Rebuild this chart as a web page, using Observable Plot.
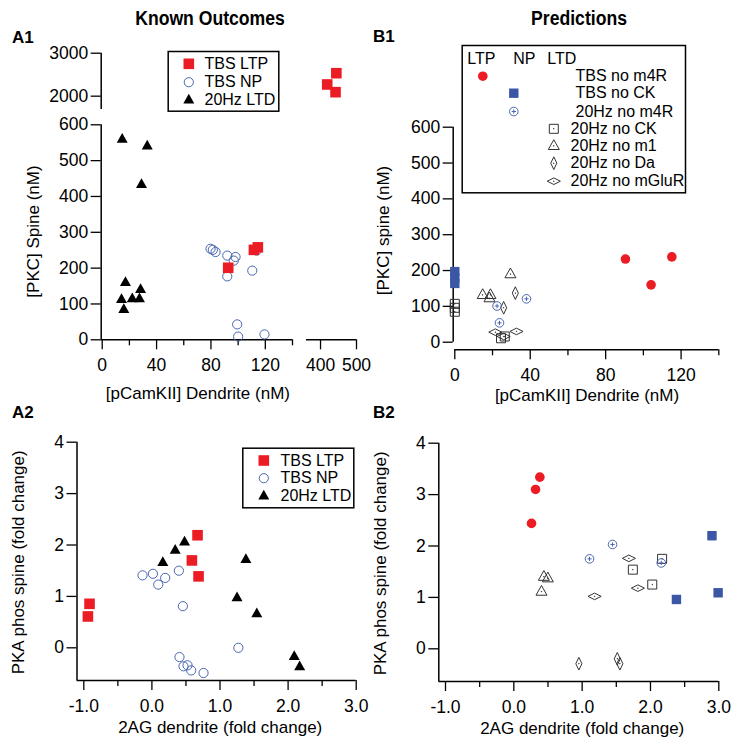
<!DOCTYPE html>
<html><head><meta charset="utf-8">
<script src="https://cdn.jsdelivr.net/npm/d3@7"></script>
<script src="https://cdn.jsdelivr.net/npm/@observablehq/plot@0.6"></script>
<style>
body{margin:0;background:#fff;}
#root{position:relative;width:739px;height:750px;font-family:"Liberation Sans",Arial,Helvetica,sans-serif;color:#000;}
.panel{position:absolute;}
.title{position:absolute;font-weight:bold;font-size:20px;line-height:22px;white-space:nowrap;transform:translateX(-50%) scaleX(0.88);transform-origin:center;}
.plabel{position:absolute;font-weight:bold;font-size:17px;line-height:18px;}
</style></head>
<body><div id="root"></div>
<script>
// ---------------- DATA ----------------
// Panel A1: [pCamKII] dendrite (nM) vs [PKC] spine (nM)
const a1LtpX = [92.7, 111.6, 114.5, 418.6, 441.7, 444.0];
const a1LtpY = [201, 251, 258, 2272, 2093, 2535];
const a1NpX  = [79.7, 81.4, 83.4, 92.0, 92.0, 96.8, 98.1, 110.4, 113.5, 99.3, 100.0, 119.4];
const a1NpY  = [254, 251, 245, 235, 177, 221, 231, 193, 249, 43, 9, 15];
const a1LtdX = [14.7, 33.1, 28.9, 17.1, 14.2, 15.9, 22.1, 27.4, 28.2];
const a1LtdY = [561, 542, 435, 161, 114, 86, 116, 116, 142];
// Panel A2: 2AG dendrite vs PKA phos spine (fold change)
const a2LtpX = [-0.916, -0.94, 0.67, 0.587, 0.685];
const a2LtpY = [0.856, 0.61, 2.19, 1.70, 1.39];
const a2NpX  = [-0.138, 0.015, 0.093, 0.195, 0.396, 0.455, 0.405, 0.464, 0.523, 0.577, 0.758, 1.27];
const a2NpY  = [1.41, 1.44, 1.23, 1.36, 1.50, 0.81, -0.18, -0.36, -0.34, -0.44, -0.49, 0.0];
const a2LtdX = [0.16, 0.342, 0.479, 1.38, 1.25, 1.54, 2.09, 2.17];
const a2LtdY = [1.67, 1.91, 2.07, 1.73, 0.985, 0.67, -0.16, -0.36];
// Panel B1
const b1TbsNoM4rX = [90.5, 115.1, 104.1];   const b1TbsNoM4rY = [232, 238, 160];
const b1TbsNoCkX  = [0, 0, 0];              const b1TbsNoCkY  = [197, 180, 164];
const b1HzNoM4rX  = [22.4, 23.7, 38.0];     const b1HzNoM4rY  = [101, 54, 121];
const b1HzNoCkX   = [0, 0, 0, 24.5, 26.5];  const b1HzNoCkY   = [107, 96, 85, 11, 16];
const b1HzNoM1X   = [14.8, 18.9, 18.4, 29.5]; const b1HzNoM1Y = [133, 133, 124, 191];
const b1HzNoDaX   = [32.1, 25.9];           const b1HzNoDaY   = [137, 96];
const b1HzNoMgX   = [21.5, 32.7, 25.9];     const b1HzNoMgY   = [28, 30, 16];
// Panel B2
const b2TbsNoM4rX = [0.381, 0.318, 0.259];  const b2TbsNoM4rY = [3.34, 3.10, 2.44];
const b2TbsNoCkX  = [2.90, 2.99, 2.38];     const b2TbsNoCkY  = [2.20, 1.09, 0.96];
const b2HzNoM4rX  = [1.108, 1.445, 2.158];  const b2HzNoM4rY  = [1.75, 2.03, 1.67];
const b2HzNoCkX   = [2.17, 1.742, 2.026];   const b2HzNoCkY   = [1.75, 1.54, 1.25];
const b2HzNoM1X   = [0.44, 0.498, 0.405];   const b2HzNoM1Y   = [1.41, 1.38, 1.12];
const b2HzNoDaX   = [0.952, 1.514, 1.552];  const b2HzNoDaY   = [-0.29, -0.195, -0.29];
const b2HzNoMgX   = [1.684, 1.816, 1.182];  const b2HzNoMgY   = [1.76, 1.18, 1.02];
// Labels / ticks
const titles = ["Known Outcomes", "Predictions"];
const panelNames = ["A1", "B1", "A2", "B2"];
const legendA = ["TBS LTP", "TBS NP", "20Hz LTD"];
const legendBHeader = ["LTP", "NP", "LTD"];
const legendB = ["TBS no m4R", "TBS no CK", "20Hz no m4R", "20Hz no CK", "20Hz no m1", "20Hz no Da", "20Hz no mGluR"];
const a1XMajor = [0, 40, 80, 120, 400, 500], a1XMinor = [20, 60, 100, 140];
const a1YTicks = [0, 100, 200, 300, 400, 500, 600, 2000, 3000];
const b1XMajor = [0, 40, 80, 120], b1XMinor = [20, 60, 100, 140];
const b1YTicks = [0, 100, 200, 300, 400, 500, 600];
const foldXMajor = [-1, 0, 1, 2, 3], foldXMinor = [-0.5, 0.5, 1.5, 2.5];
const foldYTicks = [0, 1, 2, 3, 4];
const labPCam = "[pCamKII] Dendrite (nM)";
const lab2AG = "2AG dendrite (fold change)";
const labPKA = "PKA phos spine (fold change)";

// ---------------- STYLE ----------------
const FONT = "Liberation Sans, Arial, Helvetica, sans-serif";
const RED = "#ec1c24", BLUE = "#3a56a5", CBLUE = "#4a66b0", GREY = "#333";
const pts = (xs, ys) => xs.map((x, i) => ({x, y: ys[i]}));
const R = s => Math.sqrt(s / Math.PI);
const symSquare = {draw(c, s) { const r = R(s); c.rect(-r, -r, 2 * r, 2 * r); }};
const symSquareDot = {draw(c, s) { const r = R(s); c.rect(-r, -r, 2 * r, 2 * r); c.rect(-0.25, -0.25, 0.5, 0.5); }};
const symTri = {draw(c, s) { const r = R(s); c.moveTo(0, -1.15 * r); c.lineTo(1.1 * r, 0.8 * r); c.lineTo(-1.1 * r, 0.8 * r); c.closePath(); }};
const symTriDot = {draw(c, s) { symTri.draw(c, s); c.rect(-0.25, 0.1, 0.5, 0.5); }};
const symCross = {draw(c, s) { const r = R(s); c.moveTo(r, 0); c.arc(0, 0, r, 0, 2 * Math.PI);
  c.moveTo(-0.5 * r, 0); c.lineTo(0.5 * r, 0); c.moveTo(0, -0.5 * r); c.lineTo(0, 0.5 * r); }};
const symTall = {draw(c, s) { const r = R(s); c.moveTo(0, -1.35 * r); c.lineTo(0.65 * r, 0); c.lineTo(0, 1.35 * r); c.lineTo(-0.65 * r, 0); c.closePath(); c.rect(-0.25, -0.25, 0.5, 0.5); }};
const symWide = {draw(c, s) { const r = R(s); c.moveTo(-1.4 * r, 0); c.lineTo(0, -0.7 * r); c.lineTo(1.4 * r, 0); c.lineTo(0, 0.7 * r); c.closePath(); c.rect(-0.25, -0.25, 0.5, 0.5); }};

const ST = {
  ltp:  {symbol: symSquare, r: 5.3, fill: RED, stroke: "none"},
  np:   {symbol: "circle", r: 4.6, fill: "none", stroke: CBLUE, strokeWidth: 1},
  ltd:  {symbol: symTri, r: 5, fill: "#000", stroke: "none"},
  rc:   {symbol: "circle", r: 4.8, fill: RED, stroke: "none"},
  bsq:  {symbol: symSquare, r: 4.7, fill: BLUE, stroke: "none"},
  xc:   {symbol: symCross, r: 4.3, fill: "none", stroke: CBLUE, strokeWidth: 1},
  osq:  {symbol: symSquareDot, r: 4.5, fill: "none", stroke: GREY, strokeWidth: 1},
  otri: {symbol: symTriDot, r: 5, fill: "none", stroke: GREY, strokeWidth: 1},
  tall: {symbol: symTall, r: 4.7, fill: "none", stroke: GREY, strokeWidth: 1},
  wide: {symbol: symWide, r: 4.7, fill: "none", stroke: GREY, strokeWidth: 1}
};
const dots = (data, st) => Plot.dot(data, {x: "x", y: "y", ...st});
const legDot = (st, dx, dy) => Plot.dot([0], {frameAnchor: "top-left", dx, dy, ...st});
const legText = (t, dx, dy) => Plot.text([t], {frameAnchor: "top-left", dx, dy, textAnchor: "start", lineAnchor: "middle", fontSize: 16});
const xLabel = (t, dx, dy) => Plot.text([t], {frameAnchor: "bottom", dx, dy, textAnchor: "middle", lineAnchor: "middle", fontSize: 17});
const yLabel = (t, dx, dy) => Plot.text([t], {frameAnchor: "left", rotate: -90, dx, dy, textAnchor: "middle", lineAnchor: "middle", fontSize: 17});

function axisMarks({xMajor, xMinor, yTicks, xfmt, yfmt}) {
  const m = [
    Plot.axisX(xMajor, {anchor: "bottom", tickSize: 10, tickPadding: 9, tickFormat: xfmt, fontSize: 17.5, strokeWidth: 1.3, label: null}),
    Plot.axisY(yTicks, {anchor: "left", tickSize: 10, tickPadding: 3, tickFormat: yfmt, fontSize: 17.5, strokeWidth: 1.3, label: null})
  ];
  if (xMinor) m.push(Plot.axisX(xMinor, {anchor: "bottom", tickSize: 6, tickFormat: () => "", strokeWidth: 1.3, label: null}));
  return m;
}

function panel(o) {
  return Plot.plot({
    width: o.w, height: o.h,
    marginLeft: o.ml, marginRight: o.mr, marginTop: o.mt, marginBottom: o.mb,
    x: {type: "linear", domain: o.xd, range: o.xr, axis: null, nice: false},
    y: {type: "linear", domain: o.yd, range: o.yr, axis: null, nice: false},
    style: {fontFamily: FONT, fontSize: "16px", color: "#000", background: "transparent", overflow: "visible"},
    marks: o.marks
  });
}

const root = document.getElementById("root");
function place(el, left, top) { const d = document.createElement("div"); d.className = "panel"; d.style.left = left + "px"; d.style.top = top + "px"; d.appendChild(el); root.appendChild(d); }

// ---------------- A1 ----------------
const a1xd = [-0.75, 140, 361, 500], a1yd = [0, 600, 1690, 3000];
place(panel({
  w: 370, h: 400, ml: 100.7, mr: 14, mt: 52.7, mb: 60.7,
  xd: a1xd, xr: [100.7, 292, 306, 356],
  yd: a1yd, yr: [339.3, 124.3, 109, 52.7],
  marks: [
    ...axisMarks({xMajor: a1XMajor, xMinor: a1XMinor, yTicks: a1YTicks, xfmt: d => String(d), yfmt: d => String(d)}),
    Plot.ruleY([0], {x1: a1xd[0], x2: a1xd[1], strokeWidth: 1.5}),
    Plot.ruleY([0], {x1: a1xd[2], x2: a1xd[3], strokeWidth: 1.5}),
    Plot.ruleX([a1xd[0]], {y1: a1yd[0], y2: a1yd[1], strokeWidth: 1.5}),
    Plot.ruleX([a1xd[0]], {y1: a1yd[2], y2: a1yd[3], strokeWidth: 1.5}),
    dots(pts(a1NpX, a1NpY), ST.np),
    dots(pts(a1LtdX, a1LtdY), ST.ltd),
    dots(pts(a1LtpX, a1LtpY), ST.ltp),
    Plot.frame({insetLeft: 67, insetTop: -1.7, insetRight: 77.7, insetBottom: 228.6, stroke: "#000", strokeWidth: 1.5}),
    legDot(ST.ltp, 87.6, 10.6), legDot(ST.np, 87.6, 29), legDot(ST.ltd, 87.6, 46.3),
    legText(legendA[0], 103.3, 10.6), legText(legendA[1], 103.3, 29), legText(legendA[2], 103.3, 46.3),
    xLabel(labPCam, -31, 53.7),
    yLabel("[PKC] Spine (nM)", -67.7, 35)
  ]
}), 0, 0);

// ---------------- B1 ----------------
const b1xd = [-0.85, 140], b1yd = [-21.2, 600];
place(panel({
  w: 369, h: 400, ml: 82.7, mr: 20.7, mt: 126.7, mb: 50.7,
  xd: b1xd, xr: [82.7, 348.3],
  yd: b1yd, yr: [349.3, 126.7],
  marks: [
    ...axisMarks({xMajor: b1XMajor, xMinor: b1XMinor, yTicks: b1YTicks, xfmt: d => String(d), yfmt: d => String(d)}),
    Plot.ruleY([b1yd[0]], {x1: 0, x2: 140, strokeWidth: 1.5}),
    Plot.ruleX([b1xd[0]], {y1: 0, y2: 600, strokeWidth: 1.5}),
    dots(pts(b1HzNoCkX, b1HzNoCkY), ST.osq),
    dots(pts(b1HzNoM1X, b1HzNoM1Y), ST.otri),
    dots(pts(b1HzNoDaX, b1HzNoDaY), ST.tall),
    dots(pts(b1HzNoMgX, b1HzNoMgY), ST.wide),
    dots(pts(b1HzNoM4rX, b1HzNoM4rY), ST.xc),
    dots(pts(b1TbsNoCkX, b1TbsNoCkY), ST.bsq),
    dots(pts(b1TbsNoM4rX, b1TbsNoM4rY), ST.rc),
    Plot.frame({insetLeft: 9, insetTop: -81.7, insetRight: 33.3, insetBottom: 157, stroke: "#000", strokeWidth: 1.5}),
    legText(legendBHeader[0], 14, -68.4), legText(legendBHeader[1], 60, -68.4), legText(legendBHeader[2], 94, -68.4),
    legDot(ST.rc, 29.6, -51), legDot(ST.bsq, 60.6, -34), legDot(ST.xc, 60.6, -15.7),
    legDot(ST.osq, 100.6, 1.6), legDot(ST.otri, 100.6, 18.3), legDot(ST.tall, 100.6, 36), legDot(ST.wide, 100.6, 54),
    legText(legendB[0], 122.3, -51), legText(legendB[1], 122.3, -34), legText(legendB[2], 122.3, -15.7),
    legText(legendB[3], 117.3, 1.6), legText(legendB[4], 117.3, 18.3), legText(legendB[5], 117.3, 36), legText(legendB[6], 117.3, 54),
    xLabel(labPCam, 1, 45.7),
    yLabel("[PKC] spine (nM)", -69.7, -8)
  ]
}), 370, 0);

// ---------------- A2 ----------------
const a2xd = [-1.1, 3], a2yd = [-0.636, 4];
const f1 = d => d.toFixed(1);
place(panel({
  w: 370, h: 350, ml: 76.5, mr: 14.3, mt: 41.7, mb: 70,
  xd: a2xd, xr: [76.5, 355.7],
  yd: a2yd, yr: [280, 41.7],
  marks: [
    ...axisMarks({xMajor: foldXMajor, xMinor: foldXMinor, yTicks: foldYTicks, xfmt: f1, yfmt: d => String(d)}),
    Plot.ruleY([a2yd[0]], {x1: a2xd[0], x2: a2xd[1], strokeWidth: 1.5}),
    Plot.ruleX([a2xd[0]], {y1: a2yd[0], y2: a2yd[1], strokeWidth: 1.5}),
    dots(pts(a2NpX, a2NpY), ST.np),
    dots(pts(a2LtdX, a2LtdY), ST.ltd),
    dots(pts(a2LtpX, a2LtpY), ST.ltp),
    Plot.frame({insetLeft: 165.8, insetTop: 6, insetRight: 2.4, insetBottom: 172.7, stroke: "#000", strokeWidth: 1.5}),
    legDot(ST.ltp, 186.8, 18.3), legDot(ST.np, 186.8, 36), legDot(ST.ltd, 186.8, 53.3),
    legText(legendA[0], 203.5, 18.3), legText(legendA[1], 203.5, 36), legText(legendA[2], 203.5, 53.3),
    xLabel(lab2AG, 3.6, 46.7),
    yLabel(labPKA, -58.5, 1)
  ]
}), 0, 400);

// ---------------- B2 ----------------
const b2xd = [-1.098, 3], b2yd = [-0.636, 4];
place(panel({
  w: 369, h: 350, ml: 68.3, mr: 20.7, mt: 42.7, mb: 69,
  xd: b2xd, xr: [68.3, 348.3],
  yd: b2yd, yr: [281, 42.7],
  marks: [
    ...axisMarks({xMajor: foldXMajor, xMinor: foldXMinor, yTicks: foldYTicks, xfmt: f1, yfmt: d => String(d)}),
    Plot.ruleY([b2yd[0]], {x1: b2xd[0], x2: b2xd[1], strokeWidth: 1.5}),
    Plot.ruleX([b2xd[0]], {y1: b2yd[0], y2: b2yd[1], strokeWidth: 1.5}),
    dots(pts(b2HzNoCkX, b2HzNoCkY), ST.osq),
    dots(pts(b2HzNoM1X, b2HzNoM1Y), ST.otri),
    dots(pts(b2HzNoDaX, b2HzNoDaY), ST.tall),
    dots(pts(b2HzNoMgX, b2HzNoMgY), ST.wide),
    dots(pts(b2HzNoM4rX, b2HzNoM4rY), ST.xc),
    dots(pts(b2TbsNoCkX, b2TbsNoCkY), ST.bsq),
    dots(pts(b2TbsNoM4rX, b2TbsNoM4rY), ST.rc),
    xLabel(lab2AG, 3.4, 47.3),
    yLabel(labPKA, -58.3, 1)
  ]
}), 370, 400);

// ---------------- titles & panel labels ----------------
const titlePos = [[210, 7], [579, 7]];
titles.forEach((t, i) => { const d = document.createElement("div"); d.className = "title"; d.textContent = t; d.style.left = titlePos[i][0] + "px"; d.style.top = titlePos[i][1] + "px"; root.appendChild(d); });
const plPos = [[12, 29], [373, 28], [12, 404], [373, 404]];
panelNames.forEach((t, i) => { const d = document.createElement("div"); d.className = "plabel"; d.textContent = t; d.style.left = plPos[i][0] + "px"; d.style.top = plPos[i][1] + "px"; root.appendChild(d); });
</script>
</body></html>
